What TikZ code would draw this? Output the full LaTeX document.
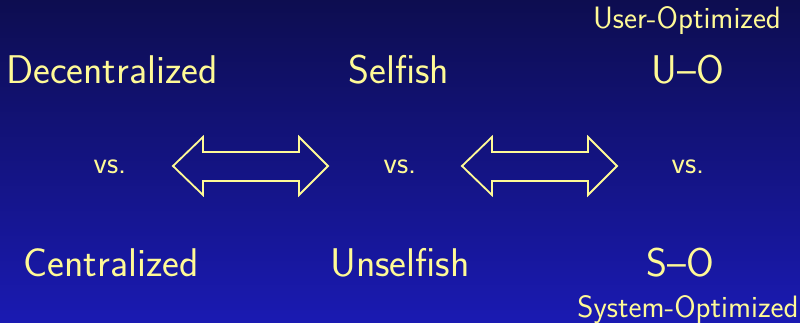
\documentclass[tikz,border=0pt]{standalone}
\usetikzlibrary{calc}
\definecolor{bgtop}{RGB}{13,13,80}
\definecolor{bgbot}{RGB}{26,26,178}
\definecolor{cream}{RGB}{255,250,150}

\begin{document}
\begin{tikzpicture}[x=0.025cm, y=-0.025cm]
  \tikzstyle{big} = [text=cream, font=\sffamily\fontsize{28.5}{32}\selectfont, anchor=base, inner sep=0pt]
  \tikzstyle{small} = [text=cream, font=\sffamily\fontsize{22}{26}\selectfont, anchor=base, inner sep=0pt]
  \tikzstyle{dblarrow} = [draw=cream, line width=1.3pt, line join=miter]
  \shade[top color=bgtop, bottom color=bgbot] (0,0) rectangle (800,322);
  \useasboundingbox (0,0) rectangle (800,322);
  % top row
  \node[big] (decent) at (112,83) {Decentralized};
  \node[big] (selfish) at (399,83) {Selfish};
  \node[big] (uo) at (688,83) {U--O};
  \node[small] (uolabel) at (687,28) {User-Optimized};
  % middle row
  \node[small] (vsa) at (110,173) {vs.};
  \node[small] (vsb) at (400,173) {vs.};
  \node[small] (vsc) at (688,173) {vs.};
  \foreach \a in {173,462}
    \draw[dblarrow] (\a,166) -- (\a+30,137) -- (\a+30,152) -- (\a+126,152) -- (\a+126,137)
      -- (\a+155,166) -- (\a+126,195) -- (\a+126,181) -- (\a+30,181) -- (\a+30,195) -- cycle;
  % bottom row
  \node[big] (cent) at (111,276) {Centralized};
  \node[big] (unselfish) at (400,276) {Unselfish};
  \node[big] (so) at (680,276) {S--O};
  \node[small] (solabel) at (688,317) {System-Optimized};
\end{tikzpicture}
\end{document}
